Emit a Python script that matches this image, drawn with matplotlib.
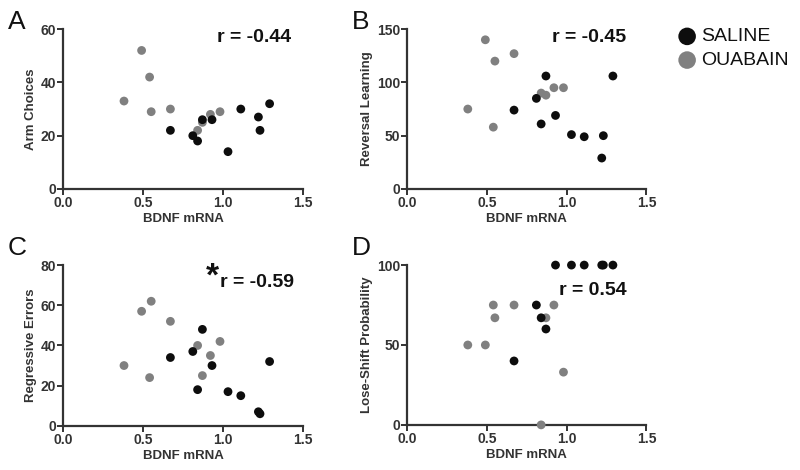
import numpy as np
import matplotlib.pyplot as plt

plt.rcParams['font.family'] = ['Liberation Sans', 'DejaVu Sans']

# BDNF mRNA (x) for each group
saline_x = [0.67, 0.81, 0.84, 0.87, 0.93, 1.03, 1.11, 1.22, 1.23, 1.29]
ouabain_x = [0.38, 0.49, 0.54, 0.55, 0.67, 0.84, 0.87, 0.92, 0.98]

# behavioural measures
arm_saline = [22, 20, 18, 26, 26, 14, 30, 27, 22, 32]
arm_ouabain = [33, 52, 42, 29, 30, 22, 25, 28, 29]
rev_saline = [74, 85, 61, 106, 69, 51, 49, 29, 50, 106]
rev_ouabain = [75, 140, 58, 120, 127, 90, 88, 95, 95]
reg_saline = [34, 37, 18, 48, 30, 17, 15, 7, 6, 32]
reg_ouabain = [30, 57, 24, 62, 52, 40, 25, 35, 42]
ls_saline = [40, 75, 67, 60, 100, 100, 100, 100, 100, 100]
ls_ouabain = [50, 50, 75, 67, 75, 0, 67, 75, 33]

panels = [
    ("A", "Arm Choices", arm_saline, arm_ouabain, 60, [0, 20, 40, 60], "r = -0.44"),
    ("B", "Reversal Learning", rev_saline, rev_ouabain, 150, [0, 50, 100, 150], "r = -0.45"),
    ("C", "Regressive Errors", reg_saline, reg_ouabain, 80, [0, 20, 40, 60, 80], "r = -0.59"),
    ("D", "Lose-Shift Probability", ls_saline, ls_ouabain, 100, [0, 50, 100], "r = 0.54"),
]

# axes boxes in figure fraction (left, bottom, width, height)
boxes = [
    [0.079, 0.598, 0.300, 0.340],
    [0.509, 0.598, 0.299, 0.340],
    [0.079, 0.094, 0.300, 0.342],
    [0.509, 0.096, 0.299, 0.340],
]
r_pos = [(0.64, 0.95), (0.607, 0.95), (0.654, 0.894), (0.636, 0.844)]

BLACK = '#0d0d0d'
GREY = '#808080'
AX = '#333333'

fig = plt.figure(figsize=(8, 4.7), dpi=100)

for (letter, ylab, ys, yo, ymax, yt, rtxt), box, rp in zip(panels, boxes, r_pos):
    ax = fig.add_axes(box)
    ax.scatter(ouabain_x, yo, s=40, color=GREY, edgecolors='none', zorder=3, clip_on=False)
    ax.scatter(saline_x, ys, s=40, color=BLACK, edgecolors='none', zorder=4, clip_on=False)
    ax.set_xlim(0, 1.5)
    ax.set_ylim(0, ymax)
    ax.set_xticks([0, 0.5, 1.0, 1.5])
    ax.set_xticklabels(["0.0", "0.5", "1.0", "1.5"])
    ax.set_yticks(yt)
    for s in ['top', 'right']:
        ax.spines[s].set_visible(False)
    for s in ['left', 'bottom']:
        ax.spines[s].set_linewidth(1.6)
        ax.spines[s].set_color(AX)
    ax.tick_params(direction='out', length=4, width=1.4, color=AX, labelcolor=AX,
                   labelsize=10, pad=1)
    for lab in ax.get_xticklabels() + ax.get_yticklabels():
        lab.set_fontweight('bold')
    ax.set_xlabel("BDNF mRNA", fontsize=9.5, fontweight='bold', color=AX, labelpad=2)
    ax.set_ylabel(ylab, fontsize=9.5, fontweight='bold', color=AX, labelpad=3)
    ax.text(rp[0], rp[1], rtxt, transform=ax.transAxes, fontsize=14, fontweight='bold',
            ha='left', va='center', color='#111111')
    if letter == "C":
        ax.text(rp[0] - 0.058, rp[1] + 0.03, "*", transform=ax.transAxes, fontsize=24,
                fontweight='bold', ha='left', va='center', color='#111111')
    fig.text(ax.get_position().x0 - 0.069, 0.953 if letter in "AB" else 0.472, letter,
             fontsize=19, ha='left', va='center', color='#111111')

# legend
leg_ax = fig.add_axes([0.83, 0.84, 0.17, 0.14])
leg_ax.axis('off')
leg_ax.set_xlim(0, 1)
leg_ax.set_ylim(0, 1)
leg_ax.scatter([0.17], [0.59], s=160, color=BLACK, edgecolors='none')
leg_ax.scatter([0.17], [0.23], s=160, color=GREY, edgecolors='none')
leg_ax.text(0.27, 0.59, "SALINE", fontsize=14, va='center', ha='left', color='#111111')
leg_ax.text(0.27, 0.23, "OUABAIN", fontsize=14, va='center', ha='left', color='#111111')

fig.savefig("out.png", dpi=100)
